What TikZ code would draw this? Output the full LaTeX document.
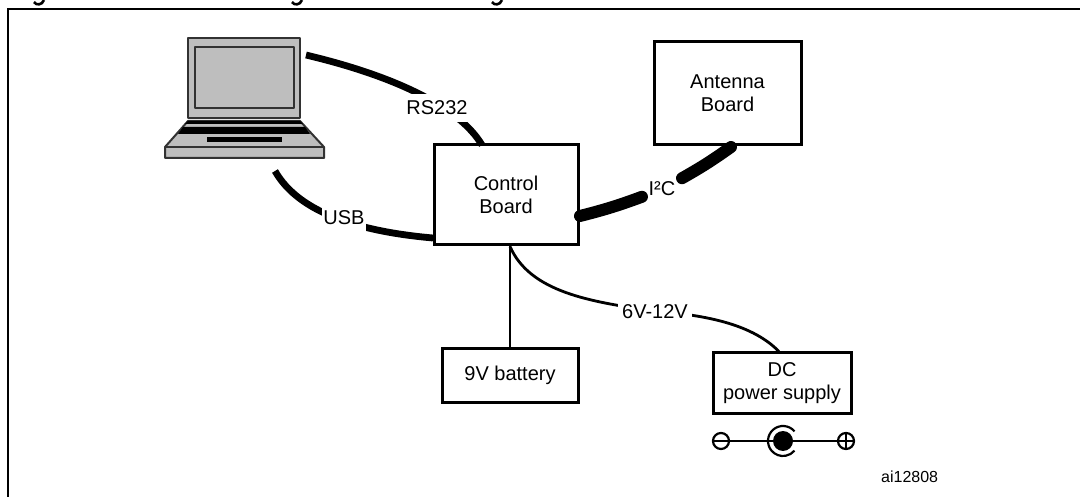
\documentclass[tikz,border=0pt]{standalone}
\usepackage{fontspec}
\usepackage{xcolor}
\usepackage{tikz}
\setmainfont{Liberation Sans}
\definecolor{laptopgray}{RGB}{190,190,190}
\definecolor{laptopedge}{RGB}{50,50,50}

\begin{document}
\begin{tikzpicture}[x=1pt, y=-1pt, node distance=100pt,
  block/.style={rectangle, draw=black, line width=3pt, align=center, inner sep=0pt, font=\fontsize{20}{23}\selectfont},
  wirelabel/.style={inner xsep=1pt, inner ysep=7pt, fill=white, font=\fontsize{20}{22}\selectfont},
  thickwire/.style={line width=6.8pt},
  thinwire/.style={line width=2.8pt},
  terminal/.style={circle, draw=black, line width=2.2pt, minimum size=16pt, inner sep=0pt},
  laptopline/.style={laptopedge, line width=2pt, line join=round}]

\useasboundingbox (0,0) rectangle (1080,497);

% frame and the cut-off heading above it
\draw[line width=2.2pt] (8,497) -- (8,9) -- (1080,9);
\foreach \hookx in {34,292,492}
  \draw[line width=2.6pt] (\hookx,2) .. controls (\hookx+2,5.5) and (\hookx+8,5.5) .. (\hookx+10,0);

% boards
\node[block, minimum width=144pt, minimum height=100pt] (control) at (506,195) {Control\\Board};
\node[block, minimum width=147pt, minimum height=103pt, right of=control, xshift=121.5pt, yshift=101.5pt] (antenna) {Antenna\\Board};
\node[block, minimum width=136pt, minimum height=53pt, below of=control, xshift=4pt, yshift=-80.5pt] (battery) {9V battery};
\node[block, minimum width=138pt, minimum height=60pt, right of=battery, xshift=172pt, yshift=-7.5pt] (dc) {DC\\power supply};

% laptop
\draw[laptopline, fill=laptopgray] (188,38) rectangle (300,118);
\draw[laptopline, fill=laptopgray] (195,47) rectangle (294,108);
\draw[laptopline, fill=laptopgray] (188,121) -- (300,121) -- (324,147) -- (324,158) -- (165,158) -- (165,147) -- cycle;
\draw[laptopline] (165,147) -- (324,147);
\fill[black] (188,121) -- (300,121) -- (303,124) -- (185,124) -- cycle;
\fill[black] (183,127) -- (305,127) -- (310,134) -- (178,134) -- cycle;
\fill[black] (207,137) rectangle (282,142);
\coordinate (rsstart) at (306,55);
\coordinate (usbstart) at (275,171);

% wires
\coordinate (rsend) at (482,145);
\coordinate (usbend) at (433,238);
\coordinate (i2cstart) at (580,216);
\coordinate (i2cend) at (731,147);
\coordinate (tap) at (battery.north |- control.south);
\coordinate (dcin) at ([xshift=-3pt]dc.north);
\coordinate (midpower) at (655,311);

\draw[thickwire] (rsstart) .. controls (390,75) and (458,105) .. (rsend);
\draw[thickwire] (usbstart) .. controls (300,215) and (365,232) .. (usbend);
\draw[thinwire] (battery.north) -- (tap);
\draw[thinwire] (tap) .. controls (530,292) and (590,302) .. (midpower) .. controls (700,315) and (750,322) .. (dcin);

\node[wirelabel] (rs232) at (437,108) {RS232};
\node[wirelabel, inner ysep=14pt] (usb) at (344,218) {USB};
\node[wirelabel, inner xsep=4pt, inner ysep=2pt] (power) at (655,312) {6V-12V};

\node[font=\fontsize{20}{22}\selectfont, inner xsep=6.5pt, inner ysep=6pt] (i2c) at (662,189) {I²C};
\draw[line width=12pt, line cap=round] (i2cstart) to[bend right=3] (i2c);
\draw[line width=12pt, line cap=round] (i2c) to[bend right=3] (i2cend);

% power jack
\node[terminal] (minus) at (721,441) {};
\node[terminal] (plus) at (846,441) {};
\node[circle, fill=black, minimum size=20pt, inner sep=0pt] (jack) at (783,441) {};
\draw[line width=2.2pt] (minus) -- (jack);
\draw[line width=2.2pt] (jack) -- (plus);
\draw[line width=2.2pt] ([shift={(40:15pt)}]jack.center) arc[start angle=40, end angle=320, radius=15pt];
\draw[line width=2pt] (minus.west) -- (minus.east);
\draw[line width=2pt] (plus.west) -- (plus.east);
\draw[line width=2pt] (plus.north) -- (plus.south);

\node[anchor=base west, inner sep=0pt, font=\fontsize{16}{19}\selectfont] (partref) at (881,482) {ai12808};
\end{tikzpicture}
\end{document}
